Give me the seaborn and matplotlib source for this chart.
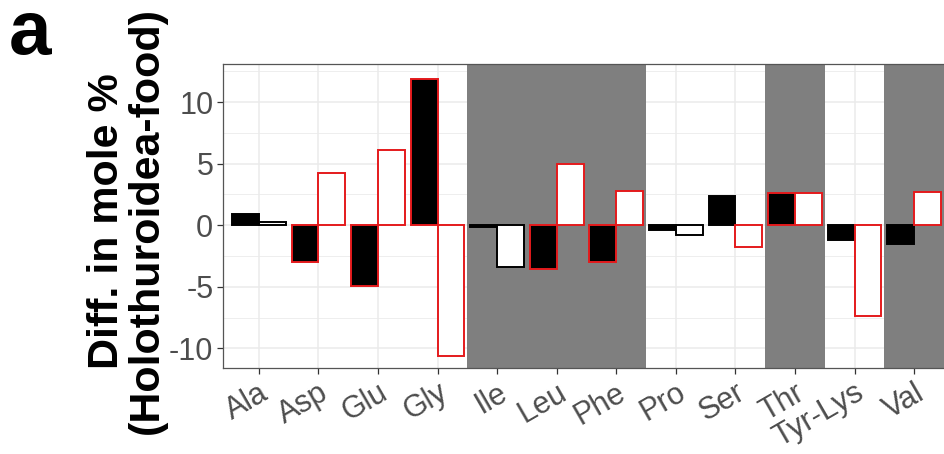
import matplotlib
matplotlib.use("Agg")
import matplotlib.pyplot as plt
import seaborn as sns
import pandas as pd
from matplotlib.ticker import MultipleLocator

categories = ['Ala', 'Asp', 'Glu', 'Gly', 'Ile', 'Leu', 'Phe', 'Pro', 'Ser', 'Thr', 'Tyr-Lys', 'Val']
black_vals = [0.9, -3.0, -4.9, 11.9, -0.15, -3.55, -3.0, -0.4, 2.4, 2.6, -1.2, -1.5]
white_vals = [0.25, 4.25, 6.1, -10.6, -3.4, 4.95, 2.75, -0.8, -1.75, 2.6, -7.4, 2.7]
black_sig = [False, True, True, True, False, True, True, False, False, True, False, False]
white_sig = [False, True, True, True, False, True, True, False, True, True, True, True]
essential = ['Ile', 'Leu', 'Phe', 'Thr', 'Val']
y_ticks = [-10, -5, 0, 5, 10]

RED = '#E41A1C'
GRAY = '#7F7F7F'

df = pd.DataFrame({
    'aa': categories * 2,
    'value': black_vals + white_vals,
    'grp': ['black'] * len(categories) + ['white'] * len(categories),
})

sns.set_theme(style='white')
plt.rcParams['font.family'] = ['Liberation Sans', 'DejaVu Sans']

fig = plt.figure(figsize=(9.44, 4.54), dpi=100)
W, H = 944, 454
left, right, top, bottom = 223, 950, 64, 368
ax = fig.add_axes([left / W, 1 - bottom / H, (right - left) / W, (bottom - top) / H])

sns.barplot(data=df, x='aa', y='value', hue='grp', order=categories,
            hue_order=['black', 'white'], palette={'black': 'black', 'white': 'white'},
            width=0.9, gap=0, dodge=True, legend=False, ax=ax, zorder=3)

for cont, sig in zip(ax.containers, [black_sig, white_sig]):
    for bar, s in zip(cont, sig):
        bar.set_edgecolor(RED if s else 'black')
        bar.set_linewidth(1.4)
        bar.set_zorder(3)

# shaded background for essential amino acids
for i, c in enumerate(categories):
    if c in essential:
        ax.axvspan(i - 0.5, i + 0.5, color=GRAY, zorder=1, lw=0)

ax.set_xlim(-0.6, 11.6)
ax.set_ylim(-11.6, 13.1)
ax.set_yticks(y_ticks)
ax.yaxis.set_minor_locator(MultipleLocator(2.5))
ax.set_axisbelow(True)
ax.grid(True, which='major', color='#EBEBEB', lw=1.1, zorder=0)
ax.grid(True, which='minor', axis='y', color='#EBEBEB', lw=0.6, zorder=0)
ax.tick_params(axis='y', which='minor', length=0)
ax.tick_params(axis='both', which='major', length=4, width=0.9, color='#333333',
               labelsize=22, labelcolor='#4D4D4D', direction='out', pad=3,
               left=True, bottom=True)
ax.set_xlabel('')
ax.set_ylabel('')
ax.set_yticklabels([str(t) for t in y_ticks])
for lab in ax.get_xticklabels():
    lab.set_rotation(30)
    lab.set_ha('right')
    lab.set_va('top')
    lab.set_rotation_mode('anchor')

for s in ax.spines.values():
    s.set_color('#555555')
    s.set_linewidth(0.9)
    s.set_zorder(5)

fig.text(127 / W, 1 - 221 / H, 'Diff. in mole %\n(Holothuroidea-food)', rotation=90,
         ha='center', va='center', multialignment='center', fontsize=31,
         fontweight='bold', color='black', linespacing=1.0)
fig.text(9 / W, 1 - 54 / H, 'a', fontsize=55, fontweight='bold', color='black',
         ha='left', va='baseline')

fig.savefig('out.png', dpi=100)
